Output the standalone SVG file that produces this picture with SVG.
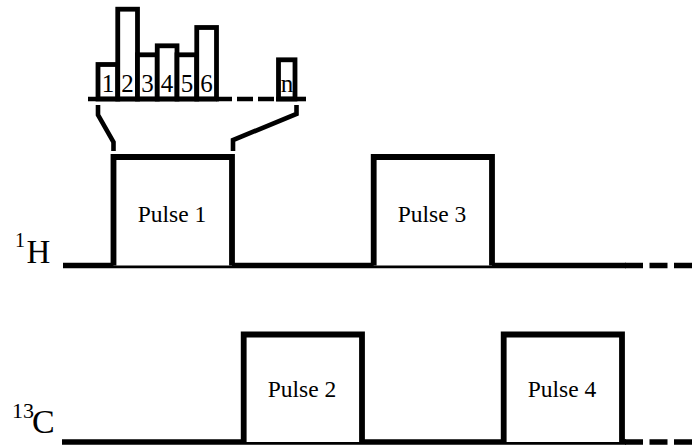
<svg xmlns="http://www.w3.org/2000/svg" width="696" height="448" viewBox="0 0 696 448">
<style>
.ln{stroke:#000;stroke-width:5.5;fill:none}
.box{stroke:#000;stroke-width:5.8;fill:#fff}
.bar{stroke:#000;stroke-width:4.8;fill:#fff}
.thin{stroke:#000;stroke-width:4.6;fill:none}
.dash{stroke-dasharray:18 6.5}
.sdash{stroke-dasharray:16 5}
text{font-family:"Liberation Serif","Times New Roman",serif;fill:#000}
.pl{font-size:23.5px;text-anchor:middle}
.dg{font-size:25px;text-anchor:middle}
</style>
<rect width="696" height="448" fill="#fff"/>
<g id="connectors">
  <line class="ln" x1="63" y1="265.5" x2="626" y2="265.5"/>
  <line class="ln dash" x1="625" y1="265.5" x2="692" y2="265.5"/>
  <line class="ln" x1="62" y1="442" x2="626" y2="442"/>
  <line class="ln dash" x1="625" y1="442" x2="692" y2="442"/>
  <polyline class="thin" points="98,105 98,115 113.5,142 113.5,151"/>
  <polyline class="thin" points="296.5,105 296.5,114 233,140 233,151"/>
</g>
<g id="label-1H">
  <text x="15" y="247" font-size="20">1</text>
  <text x="26.5" y="263" font-size="33">H</text>
</g>
<g id="label-13C">
  <text x="12" y="418" font-size="22">13</text>
  <text x="32" y="433" font-size="34">C</text>
</g>
<g id="pulse1">
  <polyline class="box" points="113.5,265.5 113.5,157 232,157 232,265.5"/>
  <text class="pl" x="172" y="222">Pulse 1</text>
</g>
<g id="pulse3">
  <polyline class="box" points="373.7,265.5 373.7,157 492,157 492,265.5"/>
  <text class="pl" x="432" y="222">Pulse 3</text>
</g>
<g id="pulse2">
  <polyline class="box" points="243.7,442 243.7,334.5 362,334.5 362,442"/>
  <text class="pl" x="302" y="397">Pulse 2</text>
</g>
<g id="pulse4">
  <polyline class="box" points="503.7,442 503.7,334.5 622,334.5 622,442"/>
  <text class="pl" x="562" y="397">Pulse 4</text>
</g>
<g id="subpulses">
  <rect class="bar" x="98" y="64.5" width="19.75" height="34.5"/>
  <rect class="bar" x="117.75" y="9.2" width="19.75" height="89.8"/>
  <rect class="bar" x="137.5" y="54.8" width="19.75" height="44.2"/>
  <rect class="bar" x="157.25" y="45.8" width="19.75" height="53.2"/>
  <rect class="bar" x="177" y="54.8" width="19.75" height="44.2"/>
  <rect class="bar" x="196.75" y="27.5" width="19.75" height="71.5"/>
  <rect class="bar" x="278.5" y="59.8" width="16.5" height="39.2"/>
  <line class="thin" x1="88" y1="99" x2="217" y2="99"/>
  <line class="thin sdash" x1="216" y1="99" x2="277" y2="99"/>
  <line class="thin" x1="276" y1="99" x2="306" y2="99"/>
  <text class="dg" x="108" y="92">1</text>
  <text class="dg" x="127.6" y="92">2</text>
  <text class="dg" x="147.4" y="92">3</text>
  <text class="dg" x="167.1" y="92">4</text>
  <text class="dg" x="186.9" y="92">5</text>
  <text class="dg" x="206.6" y="92">6</text>
  <text class="dg" x="287" y="92">n</text>
</g>
</svg>
